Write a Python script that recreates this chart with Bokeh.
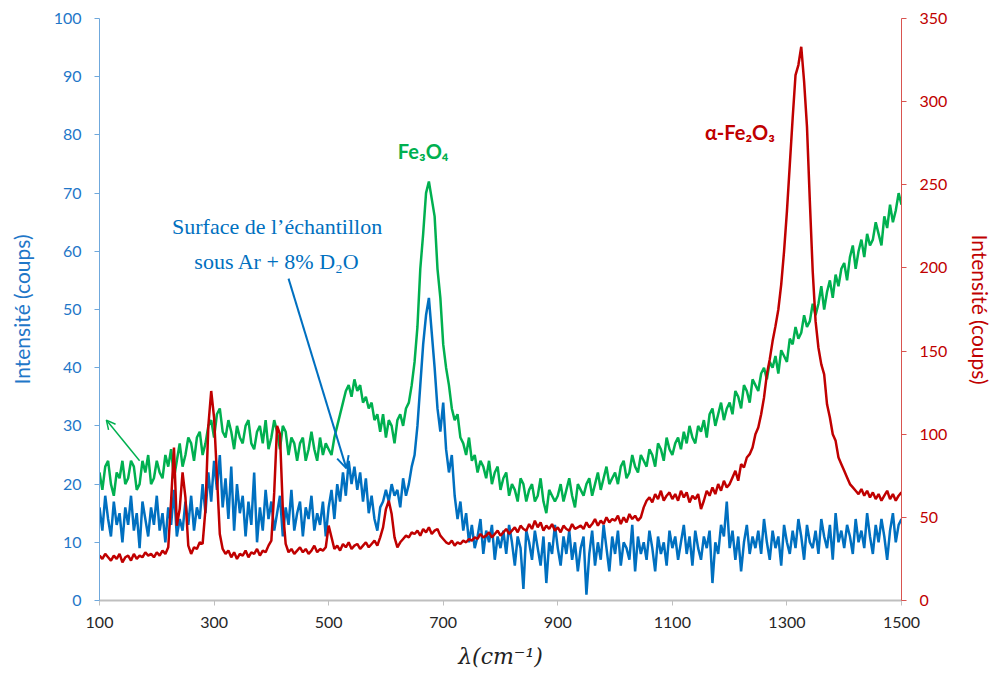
from bokeh.plotting import figure
from bokeh.models import Range1d, LinearAxis, Label, Arrow, OpenHead, FixedTicker
from bokeh.embed import file_html
from bokeh.resources import INLINE

# ---------------- data ----------------
wavenumber = list(range(100, 1505, 5))

surface_blue = [
    16, 12, 18, 14, 11, 17, 13, 15, 10, 16,
    13, 18, 12, 15, 9, 17, 14, 11, 16, 13,
    18, 12, 15, 10, 16, 13, 19, 11, 14, 12,
    17, 13, 18, 12, 16, 14, 20, 15, 22, 17,
    24, 19, 25, 16, 21, 14, 23, 12, 20, 15,
    18, 11, 17, 13, 22, 10, 16, 12, 19, 14,
    17, 12, 15, 18, 11, 16, 13, 19, 12, 15,
    17, 11, 16, 14, 18, 12, 15, 13, 17, 11,
    16, 19, 14, 20, 17, 22, 18, 24, 20, 23,
    19, 22, 17, 21, 15, 18, 14, 12, 16, 17,
    19, 17, 20, 18, 19, 16, 21, 18, 20, 23,
    25, 30, 37, 44, 49, 52, 46, 40, 33, 29,
    34, 26, 22, 25, 18, 14, 17, 12, 15, 10,
    13, 9, 11, 14, 8, 12, 10, 13, 7, 11,
    9, 12, 8, 13, 10, 6, 11, 9, 2, 12,
    10, 7, 12, 9, 6, 11, 3, 10, 8, 13,
    9, 6, 11, 8, 12, 7, 10, 5, 9, 11,
    1, 8, 12, 6, 10, 7, 13, 9, 5, 11,
    8, 12, 6, 10, 9, 7, 13, 5, 11, 8,
    10, 7, 12, 9, 5, 11, 8, 10, 6, 12,
    9, 11, 7, 10, 13, 8, 11, 6, 12, 9,
    7, 11, 9, 12, 3, 10, 8, 13, 11, 17,
    9, 12, 7, 11, 5, 10, 13, 8, 11, 9,
    12, 8, 14, 10, 7, 12, 9, 11, 6, 13,
    10, 8, 12, 9, 14, 11, 7, 13, 10, 9,
    12, 8, 14, 11, 9, 13, 7, 15, 10, 12,
    9, 13, 11, 8, 14, 10, 12, 9, 15, 11,
    8, 13, 10, 14, 11, 7, 12, 15, 10, 13,
    14,
]

fe3o4_green = [
    22, 19, 23, 24, 20, 18, 22, 21, 24, 20,
    21, 24, 23, 19, 20, 24, 22, 25, 20, 21,
    24, 22, 21, 25, 23, 26, 21, 24, 27, 23,
    25, 28, 27, 24, 28, 29, 25, 27, 30, 31,
    28, 32, 33, 29, 28, 31, 29, 26, 30, 28,
    27, 30, 31, 27, 26, 29, 30, 27, 31, 26,
    28, 31, 29, 26, 30, 29, 25, 28, 27, 24,
    27, 28, 24, 26, 29, 26, 24, 28, 25, 27,
    26, 25, 28, 30, 32, 34, 36, 37, 35, 38,
    36, 37, 34, 35, 33, 34, 31, 32, 29, 32,
    28, 31, 30, 27, 31, 32, 30, 33, 34, 37,
    41, 47, 57, 63, 70, 72, 69, 66, 57, 52,
    44, 40, 37, 33, 31, 32, 28, 27, 25, 28,
    24, 25, 22, 24, 23, 21, 24, 20, 22, 23,
    19, 21, 22, 18, 20, 19, 17, 21, 20, 17,
    19, 20, 17, 18, 21, 17, 15, 19, 18, 17,
    18, 20, 17, 19, 21, 18, 16, 20, 19, 18,
    20, 21, 18, 20, 22, 19, 21, 23, 20, 21,
    22, 20, 23, 24, 21, 22, 25, 23, 22, 25,
    24, 23, 26, 25, 23, 27, 26, 24, 28, 26,
    25, 27, 28, 26, 29, 27, 30, 28, 27, 30,
    29, 31, 28, 32, 33, 30, 32, 34, 31, 33,
    34, 32, 36, 35, 33, 37, 36, 34, 38, 37,
    36, 39, 40, 38, 41, 40, 42, 39, 43, 42,
    41, 45, 44, 47, 45, 46, 49, 47, 48, 51,
    49, 51, 54, 50, 53, 55, 52, 56, 54, 57,
    58, 55, 59, 61, 57, 60, 62, 59, 63, 61,
    62, 65, 63, 61, 66, 64, 68, 65, 67, 70,
    68,
]

fe2o3_red = [
    27, 25, 28, 26, 24, 27, 25, 28, 23, 26,
    27, 24, 28, 25, 27, 26, 29, 27, 28, 26,
    29, 27, 30, 28, 32, 60, 92, 45, 55, 77,
    62, 33, 28, 32, 31, 35, 34, 55, 105, 126,
    110, 75, 40, 31, 28, 30, 26, 29, 25, 28,
    27, 30, 26, 29, 28, 31, 27, 30, 29, 33,
    36, 65, 105, 100, 55, 34, 29, 31, 28, 30,
    32, 29, 31, 28, 30, 33, 29, 31, 30, 32,
    45, 38, 31, 33, 30, 34, 32, 35, 31, 33,
    34, 31, 33, 35, 32, 34, 36, 33, 38, 44,
    55, 60, 52, 38, 32, 35, 37, 39, 38, 41,
    40, 42, 39, 43, 41, 44, 40, 42, 43, 39,
    37, 35, 34, 36, 33, 35, 34, 36, 35, 37,
    36, 38, 37, 40, 38, 39, 41, 38, 40, 42,
    39, 41, 43, 40, 42, 44, 41, 45, 43, 42,
    46, 43, 48, 44, 47, 42, 45, 43, 46, 42,
    44, 41, 45, 43, 42, 46, 43, 44, 45, 43,
    47, 44, 46, 49, 45, 48, 46, 50, 47, 49,
    48, 51, 46, 50, 47, 52, 49, 51, 48, 50,
    56, 60, 62, 59, 64, 61, 66, 60, 63, 65,
    61, 64, 60, 66, 62, 65, 59, 63, 61, 64,
    55, 60, 66, 63, 68, 64, 70, 66, 72, 68,
    70, 74, 78, 72, 82, 80, 86, 88, 92, 100,
    104, 112, 122, 136, 145, 156, 165, 175, 190, 210,
    234, 262, 290, 316, 322, 333, 312, 285, 240, 198,
    168, 152, 142, 136, 118, 110, 100, 96, 86, 82,
    78, 74, 70, 68, 66, 64, 67, 63, 66, 62,
    65, 61, 64, 60, 63, 66, 61, 64, 60, 63,
    65,
]

x_ticks = [100, 300, 500, 700, 900, 1100, 1300, 1500]
left_ticks = list(range(0, 101, 10))
right_ticks = list(range(0, 351, 50))

BLUE = "#0070C0"
GREEN = "#00B050"
RED = "#C00000"

# ---------------- figure ----------------
p = figure(
    frame_width=802, frame_height=582,
    x_range=Range1d(100, 1500), y_range=Range1d(0, 100),
    output_backend="svg", toolbar_location=None,
    min_border_left=99, min_border_right=78, min_border_top=18, min_border_bottom=60,
)
p.extra_y_ranges = {"right": Range1d(0, 350)}
p.outline_line_color = None
p.xgrid.visible = False
p.ygrid.visible = False
p.background_fill_color = "white"

p.line(wavenumber, fe3o4_green, line_color=GREEN, line_width=2.5)
p.line(wavenumber, surface_blue, line_color=BLUE, line_width=2.5)
p.line(wavenumber, fe2o3_red, line_color=RED, line_width=2.5, y_range_name="right")

# x axis
xa = p.xaxis[0]
xa.ticker = FixedTicker(ticks=x_ticks)
xa.axis_label = "λ(cm⁻¹)"
xa.axis_label_text_font = "DejaVu Serif"
xa.axis_label_text_font_style = "italic"
xa.axis_label_text_font_size = "22px"
xa.axis_label_text_color = "#222222"
xa.axis_label_standoff = 13
xa.major_label_text_font = "Lato"
xa.major_label_text_font_size = "16px"
xa.major_label_text_color = "#262626"
xa.major_label_standoff = 11
xa.axis_line_color = "#BFBFBF"
xa.axis_line_width = 2
xa.major_tick_line_color = "#BFBFBF"
xa.major_tick_out = 5
xa.major_tick_in = 0
xa.minor_tick_line_color = None

# left axis
ya = p.yaxis[0]
ya.ticker = FixedTicker(ticks=left_ticks)
ya.axis_label = "Intensité (coups)"
ya.axis_label_text_font = "Lato"
ya.axis_label_text_font_style = "normal"
ya.axis_label_text_font_size = "21px"
ya.axis_label_text_color = "#1F77C8"
ya.axis_label_standoff = 17
ya.major_label_text_font = "Lato"
ya.major_label_text_font_size = "16px"
ya.major_label_text_color = "#1F77C8"
ya.major_label_standoff = 13
ya.axis_line_color = "#6FA8DC"
ya.major_tick_line_color = "#6FA8DC"
ya.major_tick_out = 5
ya.major_tick_in = 0
ya.minor_tick_line_color = None

# right axis
ra = LinearAxis(y_range_name="right", ticker=FixedTicker(ticks=right_ticks))
ra.axis_label = "Intensité (coups)"
ra.axis_label_text_font = "Lato"
ra.axis_label_text_font_style = "normal"
ra.axis_label_text_font_size = "21px"
ra.axis_label_text_color = "#C00000"
ra.axis_label_standoff = 18
ra.major_label_text_font = "Lato"
ra.major_label_text_font_size = "16px"
ra.major_label_text_color = "#C00000"
ra.major_label_standoff = 13
ra.axis_line_color = "#D9534F"
ra.major_tick_line_color = "#D9534F"
ra.major_tick_out = 5
ra.major_tick_in = 0
ra.minor_tick_line_color = None
p.add_layout(ra, "right")

# annotations
p.add_layout(Label(x=665, y=77.3, text="Fe₃O₄", text_font="Lato", text_font_style="bold",
                   text_font_size="20px", text_color=GREEN, text_align="center",
                   text_baseline="middle"))
p.add_layout(Label(x=1218, y=282, y_range_name="right", text="α-Fe₂O₃", text_font="Lato",
                   text_font_style="bold", text_font_size="20px", text_color=RED,
                   text_align="center", text_baseline="middle"))
p.add_layout(Label(x=410, y=64.3, text="Surface de l’échantillon", text_font="Liberation Serif",
                   text_font_size="22px", text_color=BLUE, text_align="center",
                   text_baseline="middle"))
p.add_layout(Label(x=410, y=58.3, text="sous Ar + 8% D₂O", text_font="Liberation Serif",
                   text_font_size="22px", text_color=BLUE, text_align="center",
                   text_baseline="middle"))

p.add_layout(Arrow(x_start=430, y_start=55.3, x_end=531, y_end=22.7,
                   line_color=BLUE, line_width=2,
                   end=OpenHead(size=12, line_color=BLUE, line_width=2)))
p.add_layout(Arrow(x_start=170, y_start=24, x_end=112, y_end=31,
                   line_color=GREEN, line_width=1.5,
                   end=OpenHead(size=9, line_color=GREEN, line_width=1.5)))

open("out.html", "w").write(file_html(p, INLINE))
